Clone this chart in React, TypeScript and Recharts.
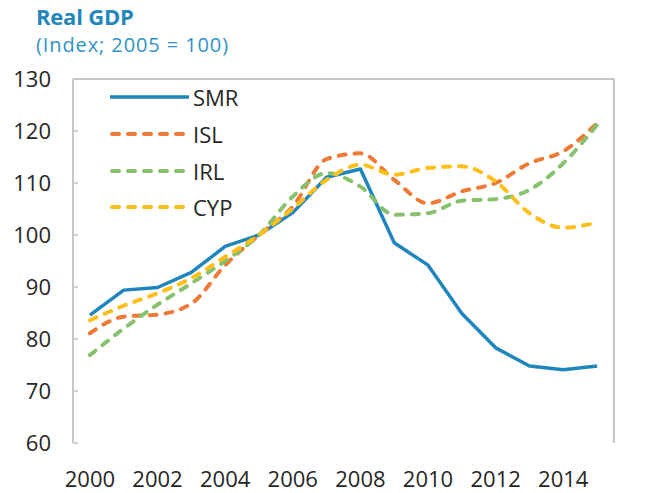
import React from 'react';
import { LineChart, Line, XAxis, YAxis, Legend, ReferenceLine } from 'recharts';

const years = [2000, 2001, 2002, 2003, 2004, 2005, 2006, 2007, 2008, 2009, 2010, 2011, 2012, 2013, 2014, 2015];
const smr = [84.6, 89.4, 89.9, 92.8, 97.8, 100, 104.3, 111.1, 112.7, 98.5, 94.2, 84.9, 78.3, 74.8, 74.1, 74.8];
const isl = [81.1, 84.3, 84.7, 86.8, 94.2, 100, 105.5, 114.6, 115.7, 110.6, 106.1, 108.4, 110.0, 113.8, 116.1, 121.5];
const irl = [76.9, 82.0, 86.6, 90.7, 95.0, 100, 107.4, 111.9, 109.3, 103.9, 104.2, 106.6, 106.9, 108.7, 113.8, 121.2];
const cyp = [83.6, 86.4, 88.8, 91.7, 95.8, 100, 105.1, 110.6, 113.5, 111.6, 112.9, 113.2, 110.3, 104.2, 101.4, 102.4];

const yTicks = [60, 70, 80, 90, 100, 110, 120, 130];
const xLabelTicks = [2000, 2002, 2004, 2006, 2008, 2010, 2012, 2014];
// tick marks sit between the years
const xBoundaryTicks = [...years.map((y) => y - 0.5), 2015.5];

const data = years.map((year, i) => ({
    year,
    SMR: smr[i],
    ISL: isl[i],
    IRL: irl[i],
    CYP: cyp[i],
}));

const FONT = '"Open Sans", "Noto Sans", sans-serif';
const AXIS = '#c6c6c6';
const LABEL = '#262626';

const series = [
    { key: 'SMR', color: '#1f86bd', dash: undefined, curve: 'linear' },
    { key: 'ISL', color: '#ee7b35', dash: '7 9', curve: 'monotone' },
    { key: 'IRL', color: '#88c16d', dash: '7 9', curve: 'monotone' },
    { key: 'CYP', color: '#fdbf1a', dash: '7 9', curve: 'monotone' },
];

const LegendBox = () => (
    <div style={{ fontFamily: FONT }}>
        {series.map((s) => (
            <div key={s.key} style={{ height: 36.7, display: 'flex', alignItems: 'center' }}>
                <svg width={79} height={8}>
                    <line
                        x1={s.dash ? 2 : 0}
                        y1={4}
                        x2={s.dash ? 77 : 79}
                        y2={4}
                        stroke={s.color}
                        strokeWidth={s.dash ? 4 : 3.5}
                        strokeLinecap={s.dash ? 'round' : 'butt'}
                        strokeDasharray={s.dash}
                    />
                </svg>
                <span style={{ marginLeft: 4, fontSize: 22, color: LABEL }}>{s.key}</span>
            </div>
        ))}
    </div>
);

export default function App() {
    return (
        <div style={{ position: 'absolute', left: 0, top: 0, width: 664, height: 493, background: '#fff', fontFamily: FONT }}>
            <div style={{ position: 'absolute', left: 36, top: 5, fontSize: 22, lineHeight: 1, fontWeight: 700, color: '#2586b9', letterSpacing: -0.2 }}>
                Real GDP
            </div>
            <div style={{ position: 'absolute', left: 36, top: 35, fontSize: 20, lineHeight: 1, color: '#3193c6', letterSpacing: 0.9 }}>
                (Index; 2005 = 100)
            </div>
            <LineChart width={664} height={493} data={data} margin={{ top: 79, right: 0, bottom: 0, left: 0 }}>
                <XAxis
                    xAxisId="tick"
                    dataKey="year"
                    type="number"
                    domain={[1999.5, 2015.5]}
                    ticks={xBoundaryTicks}
                    interval={0}
                    height={0}
                    tickSize={-6}
                    tickFormatter={() => ''}
                    axisLine={{ stroke: AXIS, strokeWidth: 2 }}
                    tickLine={{ stroke: AXIS, strokeWidth: 1.5 }}
                />
                <XAxis
                    xAxisId="lab"
                    dataKey="year"
                    type="number"
                    domain={[1999.5, 2015.5]}
                    ticks={xLabelTicks}
                    interval={0}
                    height={50}
                    tickSize={0}
                    tickMargin={28}
                    axisLine={false}
                    tickLine={false}
                    tick={{ fill: LABEL, fontSize: 22, fontFamily: FONT }}
                />
                <YAxis
                    yAxisId="left"
                    domain={[60, 130]}
                    ticks={yTicks}
                    interval={0}
                    width={73}
                    tickSize={-5}
                    tickMargin={27}
                    axisLine={{ stroke: AXIS, strokeWidth: 2 }}
                    tickLine={{ stroke: AXIS, strokeWidth: 1.5 }}
                    tick={{ fill: LABEL, fontSize: 22, fontFamily: FONT }}
                />
                <YAxis
                    yAxisId="right"
                    orientation="right"
                    domain={[60, 130]}
                    ticks={yTicks}
                    interval={0}
                    width={50}
                    tickSize={-5}
                    tickMargin={27}
                    axisLine={{ stroke: AXIS, strokeWidth: 2 }}
                    tickLine={{ stroke: AXIS, strokeWidth: 1.5 }}
                    tick={{ fill: LABEL, fontSize: 22, fontFamily: FONT }}
                />
                <ReferenceLine yAxisId="left" xAxisId="tick" y={130} stroke={AXIS} strokeWidth={2} />
                <Legend
                    layout="vertical"
                    align="center"
                    verticalAlign="middle"
                    content={() => <LegendBox />}
                    wrapperStyle={{ left: 110, top: 79, width: 200, height: 150 }}
                />
                {series.map((s) => (
                    <Line
                        key={s.key}
                        xAxisId="tick"
                        yAxisId="left"
                        type={s.curve as 'linear' | 'monotone'}
                        dataKey={s.key}
                        stroke={s.color}
                        strokeWidth={s.dash ? 4 : 3.5}
                        strokeLinejoin="round"
                        strokeLinecap={s.dash ? 'round' : 'butt'}
                        strokeDasharray={s.dash}
                        dot={false}
                        activeDot={false}
                        isAnimationActive={false}
                    />
                ))}
            </LineChart>
        </div>
    );
}
